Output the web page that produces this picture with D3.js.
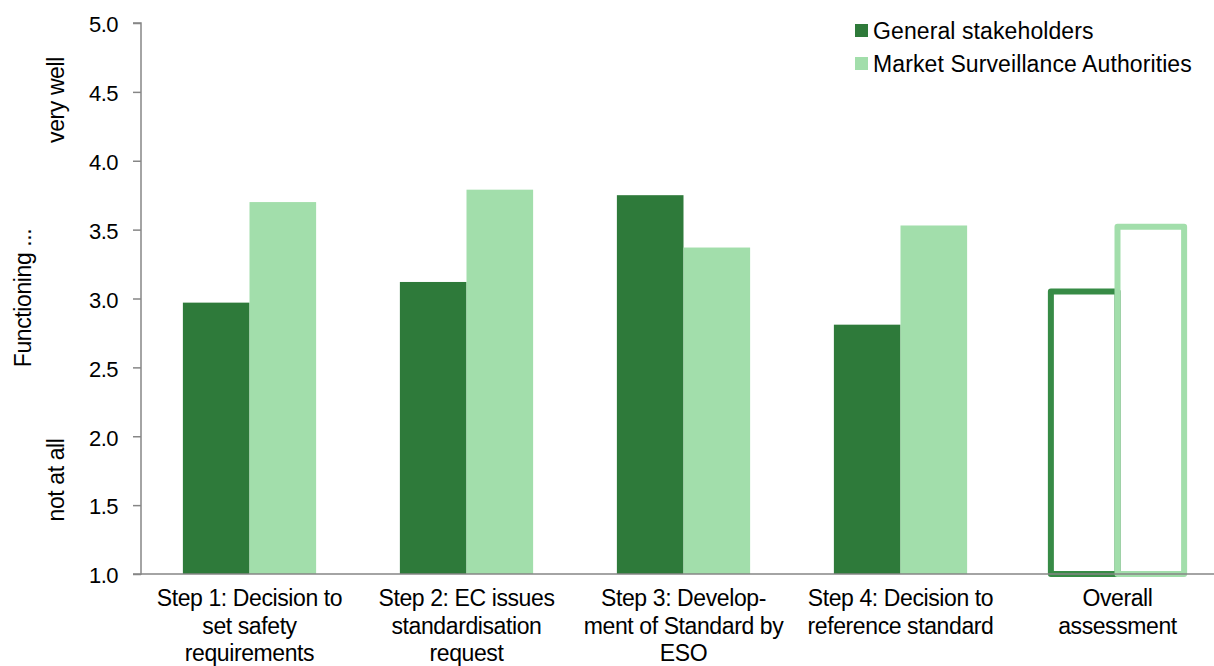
<!DOCTYPE html>
<html><head><meta charset="utf-8">
<script src="https://cdn.jsdelivr.net/npm/d3@7"></script>
<style>body{margin:0;background:#fff}svg{display:block;font-family:"Liberation Sans",Arial,sans-serif}</style>
</head><body><svg id="c" width="1214" height="666"></svg>
<script>
const categories = [
  ["Step 1: Decision to","set safety","requirements"],
  ["Step 2: EC issues","standardisation","request"],
  ["Step 3: Develop-","ment of Standard by","ESO"],
  ["Step 4: Decision to","reference standard"],
  ["Overall","assessment"]
];
const seriesNames = ["General stakeholders","Market Surveillance Authorities"];
const general = [2.97, 3.12, 3.75, 2.81, 3.05];
const msa = [3.70, 3.79, 3.37, 3.53, 3.52];
const yTicks = [1.0,1.5,2.0,2.5,3.0,3.5,4.0,4.5,5.0];
const colors = ["#2e7a3a","#a2deab"];
const outlineColors = ["#378b46","#a2deab"];

const svg = d3.select("#c");
const x0 = d3.scaleBand().domain(d3.range(categories.length)).range([141,1226]).paddingInner(0.386).paddingOuter(0.193);
const x1 = d3.scaleBand().domain([0,1]).range([0,x0.bandwidth()]);
const y = d3.scaleLinear().domain([1,5]).range([574,23]);

const data = categories.map((c,i)=>({i, vals:[general[i], msa[i]]}));
const li = categories.length-1;

const g = svg.append("g");
data.forEach(d=>{
  d.vals.forEach((v,s)=>{
    const bx = x0(d.i)+x1(s), bw = x1.bandwidth();
    if(d.i !== li){
      g.append("rect").attr("x",bx).attr("y",y(v)).attr("width",bw).attr("height",y(1)-y(v)).attr("fill",colors[s]);
    } else {
      g.append("rect").attr("x",bx).attr("y",y(v)).attr("width",bw).attr("height",y(1)-y(v))
        .attr("fill","none").attr("stroke",outlineColors[s]).attr("stroke-width",6).attr("stroke-linejoin","round");
    }
  });
});

// y axis
const yAxis = d3.axisLeft(y).tickValues(yTicks).tickFormat(d3.format(".1f")).tickSize(8).tickPadding(15);
const ya = svg.append("g").attr("transform","translate(141,0)").call(yAxis);
ya.select(".domain").attr("stroke","#868686").attr("stroke-width",1.5).attr("d","M-8,23H0V574H-8");
ya.selectAll(".tick line").attr("stroke","#868686").attr("stroke-width",1.5);
ya.selectAll(".tick text").attr("font-size",22).attr("fill","#000").attr("font-family","Liberation Sans, Arial, sans-serif").attr("letter-spacing","-0.5px").attr("dy","0.4em");

// x axis line
const xa = svg.append("g").attr("transform","translate(0,574)").call(d3.axisBottom(x0).tickSize(0).tickFormat(""));
xa.select(".domain").attr("d","M141,0H1214").attr("stroke","#868686").attr("stroke-width",1.5);

// category labels
data.forEach(d=>{
  const cx = x0(d.i)+x0.bandwidth()/2;
  const t = svg.append("text").attr("text-anchor","middle").attr("font-size",23).attr("letter-spacing","-0.4px").attr("fill","#000");
  categories[d.i].forEach((line,k)=>{
    t.append("tspan").attr("x",cx).attr("y",606+k*27.5).text(line);
  });
});

// y titles
const yt = (txt,xx,yy)=>svg.append("text").attr("transform",`translate(${xx},${yy}) rotate(-90)`).attr("text-anchor","middle")
  .attr("font-size",23).attr("letter-spacing","-0.4px").attr("fill","#000").text(txt);
yt("Functioning ...",31,298);
yt("very well",64,100);
yt("not at all",64,480);

// legend
const lg = svg.append("g");
seriesNames.forEach((n,i)=>{
  lg.append("rect").attr("x",855).attr("y",24+i*33).attr("width",13).attr("height",13).attr("fill",colors[i]);
  lg.append("text").attr("x",873).attr("y",39+i*33).attr("font-size",23).attr("letter-spacing","0.1px").attr("fill","#000").text(n);
});
</script></body></html>
